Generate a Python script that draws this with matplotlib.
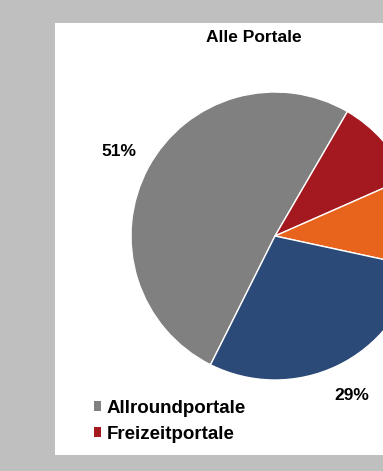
import matplotlib
matplotlib.use("Agg")
import matplotlib.pyplot as plt
from matplotlib.patches import Rectangle, Patch

plt.rcParams['font.family'] = ['Liberation Sans', 'DejaVu Sans']

title = "Alle Portale"
categories = ["Allroundportale", "Freizeitportale", "Fachportale", "Nachrichtenportale"]
values = [51, 10, 10, 29]
colors = ["#808080", "#a3191f", "#e8641c", "#2c4a78"]

W, H = 383, 471
fig = plt.figure(figsize=(W / 100, H / 100), dpi=100)
fig.patch.set_facecolor("#bfbfbf")
ax = fig.add_axes([0, 0, 1, 1])

wedges, texts, autotexts = ax.pie(
    values, colors=colors, startangle=243.4, counterclock=False,
    center=(275, H - 236), radius=144, autopct='%d%%', pctdistance=1.23,
    wedgeprops=dict(edgecolor="white", linewidth=1.0),
    textprops=dict(fontsize=12.5, fontweight='bold', color='black'),
)
ax.set_xlim(0, W)
ax.set_ylim(0, H)
ax.set_aspect('equal')
ax.axis('off')
ax.add_patch(Rectangle((55, H - 455), W - 55, 432, facecolor='white', edgecolor='none', zorder=0))

ax.text(254, H - 38, title, ha='center', va='center', fontsize=12.5, fontweight='bold')

handles = [Patch(facecolor=c, edgecolor='none') for c in colors]
leg = ax.legend(handles, categories, ncol=2, loc='upper left',
                bbox_to_anchor=(77 / W, 1 - 383 / H), frameon=False,
                prop=dict(weight='bold', size=13.5),
                handlelength=0.4, handleheight=0.4, handletextpad=0.3,
                labelspacing=0.47, columnspacing=14)

fig.savefig("out.png", dpi=100, facecolor=fig.get_facecolor())
